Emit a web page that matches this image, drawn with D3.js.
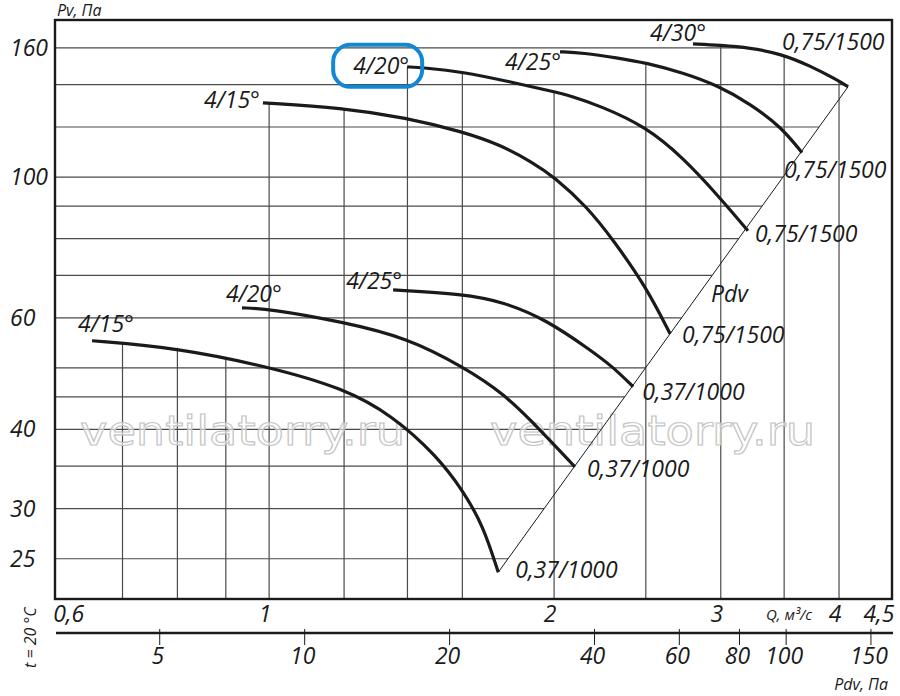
<!DOCTYPE html>
<html><head><meta charset="utf-8">
<script src="https://cdn.jsdelivr.net/npm/d3@7"></script>
<style>
body{margin:0;background:#fff;}
svg text{font-family:"Open Sans",sans-serif;font-style:italic;fill:#1a1a1a;}
</style></head><body>
<svg id="chart" width="900" height="696"></svg>
<script>
// ---------- data ----------
const qTicks = [0.6, 1, 2, 3, 4, 4.5];
const qTickLabels = ["0,6", "1", "2", "3", "4", "4,5"];
const qGrid = [0.7, 0.8, 0.9, 1, 1.2, 1.4, 1.6, 2, 2.5, 3, 3.5, 4];
const pvGrid = [25, 30, 35, 40, 45, 50, 60, 70, 80, 90, 100, 120, 140, 160];
const pvTicks = [25, 30, 40, 60, 100, 160];
const pdvTicks = [5, 10, 20, 40, 60, 80, 100, 150];

// curves [Q m3/s, Pv Pa]
const c1500_15 = [[0.985,131.0],[1.194,128.7],[1.395,124.1],[1.603,117.9],[1.754,112.5],[1.900,105.4],[2.000,100.1],[2.167,89.8],[2.308,79.7],[2.502,67.1],[2.652,56.6]];
const c1500_20 = [[1.399,149.3],[1.455,148.8],[1.599,146.7],[1.797,141.4],[2.000,136.4],[2.079,134.4],[2.237,129.6],[2.502,120.1],[2.737,107.3],[2.981,93.5],[3.205,82.3]];
const c1500_25 = [[2.029,157.7],[2.146,157.1],[2.331,154.3],[2.502,151.5],[2.737,146.1],[2.981,139.4],[3.221,130.6],[3.474,120.1],[3.655,109.3]];
const c1500_30 = [[2.804,162.3],[2.995,161.5],[3.221,160.0],[3.474,156.5],[3.728,149.9],[3.981,142.4],[4.089,138.9]];
const c1000_15 = [[0.650,55.2],[0.800,53.8],[1.0,50.2],[1.197,46.5],[1.352,42.0],[1.504,36.3],[1.603,32.0],[1.683,28.2],[1.746,23.8]];
const c1000_20 = [[0.936,62.2],[1.0,62.0],[1.197,59.1],[1.399,55.8],[1.603,50.2],[1.767,45.7],[1.947,39.5],[2.104,34.9]];
const c1000_25 = [[1.352,66.4],[1.603,65.4],[1.767,63.6],[1.966,59.5],[2.183,53.4],[2.308,50.2],[2.424,46.7]];
const pdvLine = [[1.746,23.8],[4.089,138.9]];

const curves = [c1500_15, c1500_20, c1500_25, c1500_30, c1000_15, c1000_20, c1000_25];
const angleLabels = ["4/15°","4/20°","4/25°","4/30°","4/15°","4/20°","4/25°"];
const motorLabels = ["0,75/1500","0,75/1500","0,75/1500","0,75/1500","0,37/1000","0,37/1000","0,37/1000"];

// ---------- layout ----------
const L = 55, R = 892, T = 20, B = 599;
const svg = d3.select("#chart");
const x = d3.scaleLog().domain([0.594, 4.55]).range([L, R]);
const y = d3.scaleLog().domain([21.6, 177]).range([B, T]);
const xP = d3.scaleLog().domain([3.03, 165.9]).range([L, R]);

const lg = Math.log;
function pvAt(c, q){
  if (q < c[0][0] || q > c[c.length-1][0]) return null;
  for (let i=0;i<c.length-1;i++){
    if (q>=c[i][0] && q<=c[i+1][0]){
      const t=(lg(q)-lg(c[i][0]))/(lg(c[i+1][0])-lg(c[i][0]));
      return Math.exp(lg(c[i][1])+t*(lg(c[i+1][1])-lg(c[i][1])));
    }
  }
  return null;
}
function qAtPv(c, pv){
  for (let i=0;i<c.length-1;i++){
    const a=c[i][1], b=c[i+1][1];
    if ((pv<=a && pv>=b)||(pv>=a && pv<=b)){
      const t=(lg(pv)-lg(a))/(lg(b)-lg(a));
      return Math.exp(lg(c[i][0])+t*(lg(c[i+1][0])-lg(c[i][0])));
    }
  }
  return null;
}
function qDiag(pv){
  const [a,b]=pdvLine;
  const t=(lg(pv)-lg(a[1]))/(lg(b[1])-lg(a[1]));
  return Math.exp(lg(a[0])+t*(lg(b[0])-lg(a[0])));
}

// ---------- grid ----------
const grid = svg.append("g").attr("stroke","#4a4a4a").attr("stroke-width",1.2);
qGrid.forEach(q=>{
  let top=null;
  curves.forEach(c=>{const v=pvAt(c,q); if(v!==null && (top===null||v>top)) top=v;});
  if (top===null) return;
  grid.append("line").attr("x1",x(q)).attr("x2",x(q)).attr("y1",B).attr("y2",y(top));
});
pvGrid.forEach(pv=>{
  let xe=Math.min(R, x(qDiag(pv)));
  const qc=qAtPv(c1500_30, pv);
  if (qc!==null) xe=Math.min(xe, x(qc));
  grid.append("line").attr("x1",L).attr("x2",xe).attr("y1",y(pv)).attr("y2",y(pv));
});

// ---------- watermark ----------
["ventilatorry.ru","ventilatorry.ru"].forEach((t,i)=>{
  svg.append("text").text(t)
    .attr("x", i===0 ? 80 : 490).attr("y", 445)
    .attr("textLength", 325).attr("lengthAdjust","spacingAndGlyphs")
    .style("font-family","'DejaVu Sans',sans-serif").style("font-style","normal")
    .style("font-size","40px").style("fill","rgba(255,255,255,0.55)")
    .style("stroke","#c4c4c4").style("stroke-width","1.1px");
});

// ---------- diagonal Pdv line ----------
svg.append("line")
  .attr("x1",x(pdvLine[0][0])).attr("y1",y(pdvLine[0][1]))
  .attr("x2",x(pdvLine[1][0])).attr("y2",y(pdvLine[1][1]))
  .attr("stroke","#1a1a1a").attr("stroke-width",1);

// ---------- curves ----------
const line = d3.line().x(d=>x(d[0])).y(d=>y(d[1])).curve(d3.curveBasis);
curves.forEach(c=>{
  svg.append("path").attr("d",line(c)).attr("fill","none")
    .attr("stroke","#1a1a1a").attr("stroke-width",3.2).attr("stroke-linecap","butt");
});

// ---------- border ----------
svg.append("rect").attr("x",L).attr("y",T).attr("width",R-L).attr("height",B-T)
  .attr("fill","none").attr("stroke","#1a1a1a").attr("stroke-width",2.4);

// ---------- curve labels ----------
const fs = "23px";
const angleOff = [[-3,5,"end"],[2,7,"end"],[1,18,"end"],[13,-3,"end"],[-14,-9,"start"],[-16,-6,"start"],[9,-1,"end"]];
const motorOff = [[12,9],[7,11],[-18,25],[-66,-37],[17,6],[12,10],[9,13]];
curves.forEach((c,i)=>{
  const s=c[0], e=c[c.length-1];
  svg.append("text").text(angleLabels[i])
    .attr("x", x(s[0])+angleOff[i][0]).attr("y", y(s[1])+angleOff[i][1])
    .attr("text-anchor", angleOff[i][2]).style("font-size",fs);
  svg.append("text").text(motorLabels[i])
    .attr("x", x(e[0])+motorOff[i][0]).attr("y", y(e[1])+motorOff[i][1])
    .style("font-size",fs);
});
svg.append("text").text("Pdv").attr("x",711).attr("y",302).style("font-size",fs);

// highlight rounded box around upper 4/20°
svg.append("rect")
  .attr("x", x(c1500_20[0][0])-74).attr("y", y(c1500_20[0][1])-22)
  .attr("width",89).attr("height",42).attr("rx",17).attr("ry",17)
  .attr("fill","none").attr("stroke","#1287d6").attr("stroke-width",4);

// ---------- Y axis labels ----------
pvTicks.forEach(v=>{
  svg.append("text").text(v).attr("x",10).attr("y",y(v)+8).style("font-size",fs);
});
svg.append("text").text("Pv, Па").attr("x",57).attr("y",16).style("font-size","16px");

// ---------- Q labels ----------
qTicks.forEach((q,i)=>{
  const last = i===qTicks.length-1, first = i===0;
  svg.append("text").text(qTickLabels[i])
    .attr("x", first ? x(q)-6 : last ? x(q)+7 : x(q)-4).attr("y",622)
    .attr("text-anchor", first ? "start" : last ? "end" : "middle")
    .style("font-size",fs);
});
svg.append("text").text("Q, м³/с").attr("x",766).attr("y",620).style("font-size","15px");

// ---------- Pdv axis ----------
const ay = 633;
svg.append("line").attr("x1",L+1).attr("x2",R+1).attr("y1",ay).attr("y2",ay)
  .attr("stroke","#1a1a1a").attr("stroke-width",2.4);
pdvTicks.forEach(p=>{
  svg.append("line").attr("x1",xP(p)).attr("x2",xP(p)).attr("y1",ay-4).attr("y2",ay+12)
    .attr("stroke","#1a1a1a").attr("stroke-width",1);
  svg.append("text").text(p).attr("x",xP(p)-2).attr("y",664)
    .attr("text-anchor","middle").style("font-size",fs);
});
svg.append("text").text("Pdv, Па").attr("x",888).attr("y",690)
  .attr("text-anchor","end").style("font-size","16px");
svg.append("text").text("t = 20 °C")
  .attr("transform","translate(36,668) rotate(-90)").style("font-size","16px");
</script>
</body></html>
